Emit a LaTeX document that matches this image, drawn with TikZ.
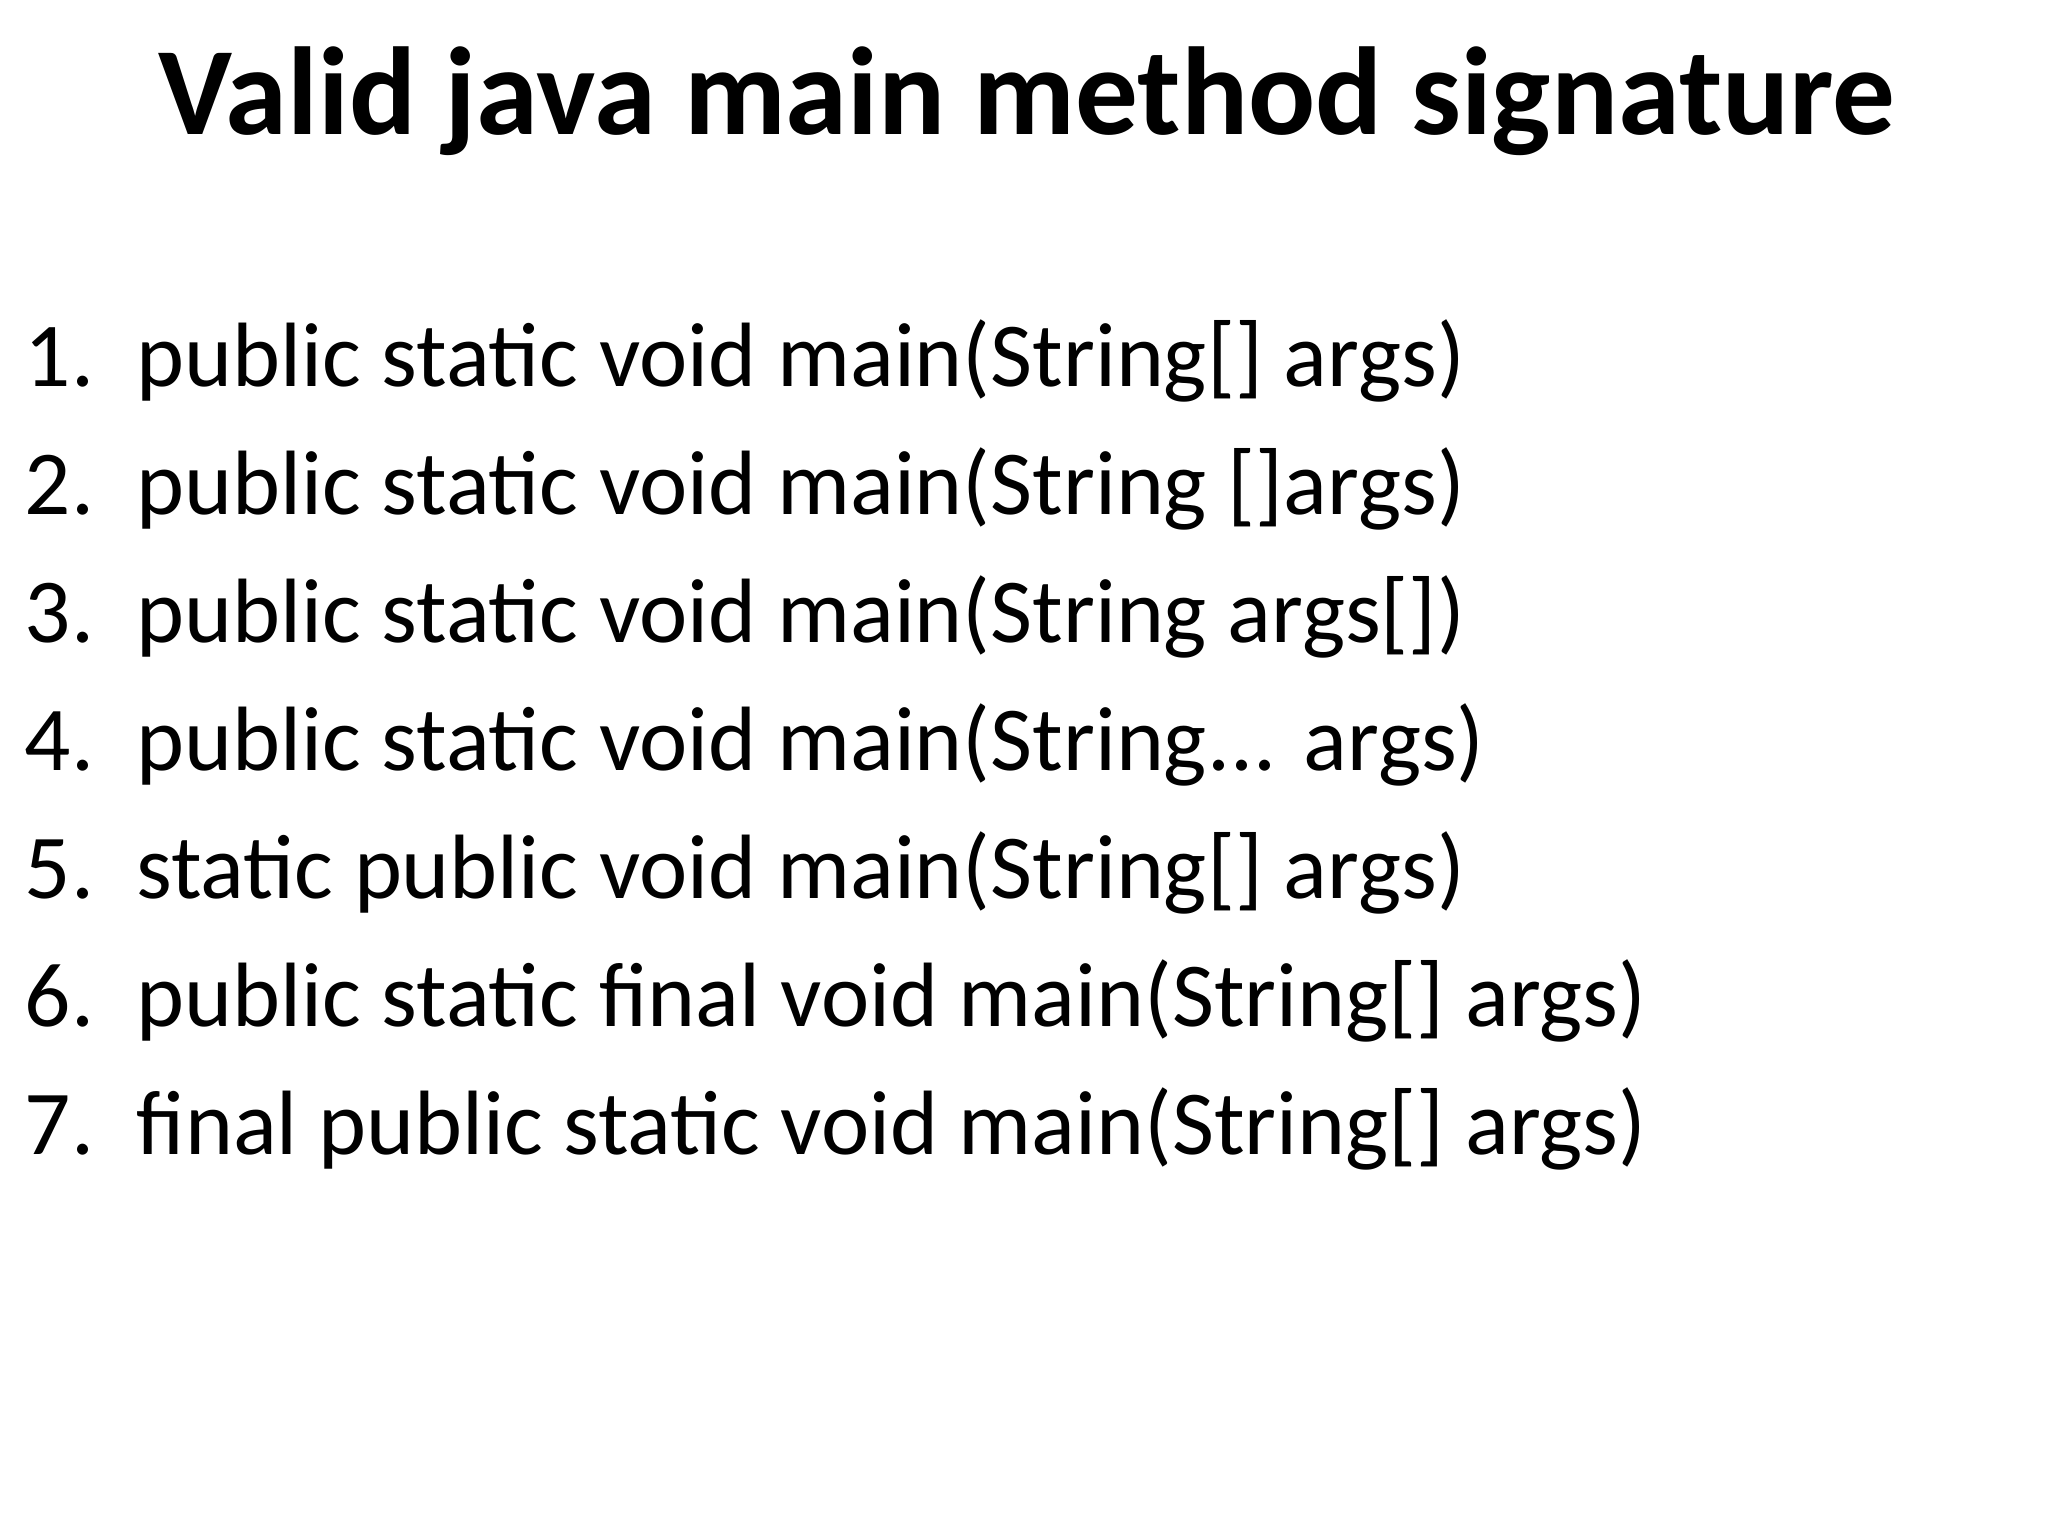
\documentclass[tikz,border=0pt]{standalone}
\usepackage{fontspec}
\setmainfont{Carlito}
\tikzstyle{heading} = [anchor=base, inner sep=0pt, font=\fontsize{35.6}{42}\selectfont\bfseries]
\tikzstyle{entry} = [anchor=base west, inner sep=0pt, font=\fontsize{26}{31}\selectfont]
\begin{document}
\begin{tikzpicture}
    \useasboundingbox (0,0) rectangle (20.48,15.36);
	\node (Title) at (10.27, 14.01) [heading] {Valid java main method signature};
	\foreach \i/\sig in {1/{public static void main(String[] args)},
	                     2/{public static void main(String []args)},
	                     3/{public static void main(String args[])},
	                     4/{public static void main(String... args)},
	                     5/{static public void main(String[] args)},
	                     6/{public static final void main(String[] args)},
	                     7/{final public static void main(String[] args)}} {
		\node (Num\i) at (0.24, {11.49-(\i-1)*1.28}) [entry] {\i.};
		\node (Sig\i) at (1.36, {11.49-(\i-1)*1.28}) [entry] {\sig};
	}
\end{tikzpicture}
\end{document}
